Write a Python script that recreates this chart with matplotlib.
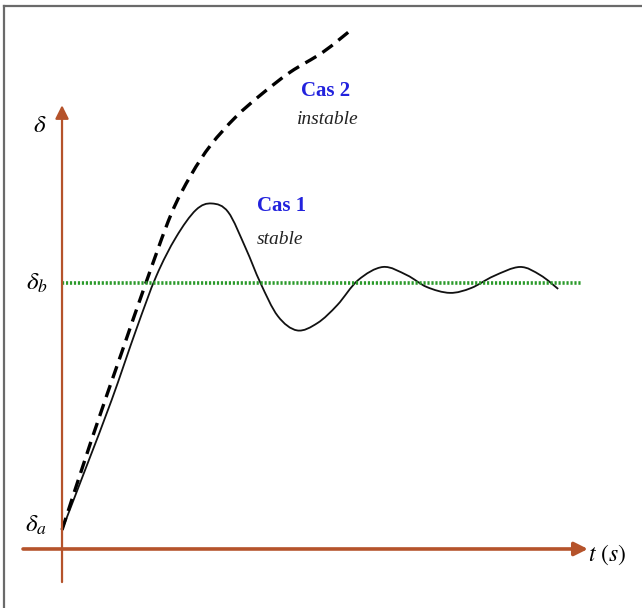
import numpy as np
import matplotlib.pyplot as plt
from matplotlib.lines import Line2D
from matplotlib.path import Path
from matplotlib.patches import PathPatch

# load angle response: delta normalised so that delta_a = 0 and delta_b = 1
t_stable = [0, 0.5, 1.0, 1.5, 1.9, 2.3, 2.7, 3.02, 3.35, 3.7, 4.0, 4.35, 4.74,
            5.15, 5.55, 5.97, 6.47, 6.95, 7.35, 7.82, 8.25, 8.7, 9.23, 9.64, 10.0]
d_stable = [0, 0.261, 0.526, 0.814, 1.028, 1.186, 1.296, 1.322, 1.287, 1.142, 1.0,
            0.866, 0.808, 0.838, 0.911, 1.012, 1.065, 1.032, 0.984, 0.960, 0.980,
            1.028, 1.065, 1.032, 0.976]

t_unstable = [0, 0.6, 1.2, 1.69, 2.2, 2.6, 3.0, 3.5, 4.0, 4.6, 5.26, 5.87]
d_unstable = [0, 0.368, 0.717, 1.0, 1.279, 1.437, 1.559, 1.672, 1.761, 1.854,
              1.935, 2.032]

delta_b = 1.0
t_end = 10.46

brown = '#b5532b'
serif = 'Liberation Serif'


def smooth_path(x, y):
    # cubic Bezier segments through the points (Catmull-Rom tangents)
    p = np.column_stack([x, y]).astype(float)
    ext = np.vstack([p[0], p, p[-1]])
    verts = [p[0]]
    codes = [Path.MOVETO]
    for i in range(len(p) - 1):
        a, b, c, d = ext[i], ext[i + 1], ext[i + 2], ext[i + 3]
        verts += [b + (c - a) / 6, c - (d - b) / 6, c]
        codes += [Path.CURVE4] * 3
    return Path(verts, codes)


fig = plt.figure(figsize=(6.42, 6.08), dpi=100)
ax = fig.add_axes([0, 0, 1, 1])
ax.set_xlim(-1.25, 11.69)
ax.set_ylim(-0.316, 2.146)
ax.axis('off')

# frame around the sketch (top and left edges only)
fig.add_artist(Line2D([4/642, 1], [1 - 6/608, 1 - 6/608], transform=fig.transFigure,
                      color='#6a6a6a', lw=1.6))
fig.add_artist(Line2D([4/642, 4/642], [0, 1 - 6/608], transform=fig.transFigure,
                      color='#6a6a6a', lw=1.6))

# axes arrows
ax.annotate('', xy=(0, 1.72), xytext=(0, -0.211),
            arrowprops=dict(arrowstyle='-|>', color=brown, lw=1.6,
                            mutation_scale=20, shrinkA=0, shrinkB=0))
ax.annotate('', xy=(10.6, -0.077), xytext=(-0.786, -0.077),
            arrowprops=dict(arrowstyle='-|>', color=brown, lw=2.6,
                            mutation_scale=20, shrinkA=0, shrinkB=0))

# reference level delta_b
ax.plot([0, t_end], [delta_b, delta_b], color='#2a9a2a', lw=2.6,
        linestyle=(0, (0.6, 0.5)))

# cas 1 (stable) and cas 2 (instable)
ax.add_patch(PathPatch(smooth_path(t_stable, d_stable), fill=False,
                       edgecolor='#111111', lw=1.3))
ax.add_patch(PathPatch(smooth_path(t_unstable, d_unstable), fill=False,
                       edgecolor='black', lw=2.4, linestyle=(0, (3.8, 2.2)),
                       capstyle='butt'))

plt.rcParams['mathtext.fontset'] = 'stix'
ax.text(-0.44, 1.64, r'$\delta$', fontsize=18, ha='center', va='center')
ax.text(-0.50, 1.0, r'$\delta_b$', fontsize=18, ha='center', va='center')
ax.text(-0.52, 0.02, r'$\delta_a$', fontsize=18, ha='center', va='center')
ax.text(10.98, -0.10, r'$t\ (s)$', fontsize=17, ha='center', va='center')

ax.text(5.32, 1.777, 'Cas 2', fontsize=15, family=serif, color='#2222dd',
        weight='bold', ha='center', va='center')
ax.text(5.36, 1.664, 'instable', fontsize=14, family=serif, style='italic',
        color='#222222', ha='center', va='center')
ax.text(4.42, 1.312, 'Cas 1', fontsize=15, family=serif, color='#2222dd',
        weight='bold', ha='center', va='center')
ax.text(4.40, 1.178, 'stable', fontsize=14, family=serif, style='italic',
        color='#222222', ha='center', va='center')

fig.savefig('out.png', dpi=100)
